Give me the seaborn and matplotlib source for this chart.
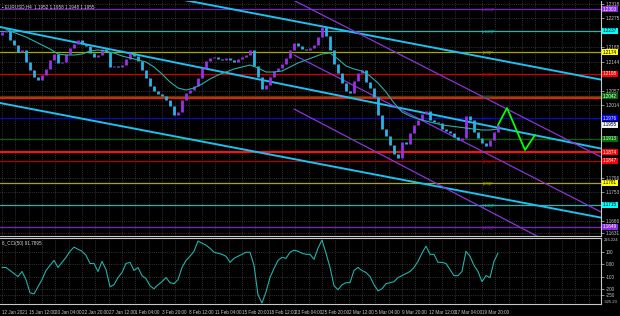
import numpy as np
import pandas as pd
import matplotlib
matplotlib.use("Agg")
import matplotlib.pyplot as plt
import seaborn as sns
from matplotlib.transforms import blended_transform_factory

# ---------------- data ----------------
first_open = 1.2225
closes = [1.2234, 1.2240, 1.2210, 1.2195, 1.2174, 1.2180, 1.2144, 1.2120, 1.2099, 1.2090,
          1.2105, 1.2123, 1.2150, 1.2168, 1.2141, 1.2144, 1.2168, 1.2186, 1.2198, 1.2210,
          1.2198, 1.2192, 1.2171, 1.2159, 1.2165, 1.2183, 1.2174, 1.2129, 1.2132, 1.2129,
          1.2135, 1.2153, 1.2171, 1.2162, 1.2147, 1.2120, 1.2096, 1.2072, 1.2057, 1.2048,
          1.2042, 1.2030, 1.2012, 1.1985, 1.1994, 1.2030, 1.2051, 1.2060, 1.2072, 1.2096,
          1.2126, 1.2147, 1.2156, 1.2159, 1.2153, 1.2150, 1.2156, 1.2150, 1.2144, 1.2153,
          1.2159, 1.2165, 1.2180, 1.2132, 1.2099, 1.2063, 1.2075, 1.2099, 1.2117, 1.2126,
          1.2138, 1.2156, 1.2180, 1.2201, 1.2192, 1.2183, 1.2180, 1.2186, 1.2195, 1.2219,
          1.2249, 1.2222, 1.2180, 1.2138, 1.2111, 1.2081, 1.2057, 1.2051, 1.2087, 1.2111,
          1.2120, 1.2084, 1.2066, 1.2039, 1.1985, 1.1943, 1.1922, 1.1895, 1.1868, 1.1856,
          1.1904, 1.1898, 1.1931, 1.1955, 1.1970, 1.1988, 1.1997, 1.1970, 1.1964, 1.1961,
          1.1943, 1.1937, 1.1931, 1.1919, 1.1910, 1.1916, 1.1982, 1.1970, 1.1934, 1.1916,
          1.1901, 1.1892, 1.1910, 1.1934, 1.1955]

ma_values = [1.2249, 1.2237, 1.2228, 1.2219, 1.2207, 1.2195, 1.2183, 1.2168, 1.2165, 1.2165,
             1.2168, 1.2177, 1.2180, 1.2177, 1.2171, 1.2162, 1.2156, 1.2150, 1.2144, 1.2129,
             1.2108, 1.2084, 1.2066, 1.2060, 1.2066, 1.2078, 1.2093, 1.2105, 1.2114, 1.2123,
             1.2129, 1.2135, 1.2126, 1.2114, 1.2114, 1.2117, 1.2129, 1.2141, 1.2150, 1.2159,
             1.2168, 1.2171, 1.2153, 1.2132, 1.2123, 1.2117, 1.2102, 1.2081, 1.2054, 1.2021,
             1.1994, 1.1982, 1.1973, 1.1967, 1.1961, 1.1955, 1.1952, 1.1949, 1.1946, 1.1943,
             1.1940, 1.1940, 1.1943]

cci_values = [-25, -25, -50, -75, -100, -58, -125, -233, -242, -183,
              -125, -50, -8, 33, -25, 17, 58, 108, 142, 125,
              108, 75, 8, 8, -58, 25, -42, -183, -167, -108,
              -67, 8, 17, -50, -25, -92, -117, -175, -200, -167,
              -142, -108, -150, -158, -125, -25, 33, 67, 108, 192,
              175, 158, 133, 100, 92, 83, 67, 17, 50, 67,
              83, 100, 100, -8, -250, -317, -225, -108, -33, 33,
              58, 50, 100, 117, 108, 92, 83, 83, 42, 133,
              200, 92, -25, -175, -208, -167, -150, -150, -50, -25,
              -50, -67, -100, -167, -217, -200, -158, -150, -142, -108,
              -92, -75, -58, -25, 25, 92, 150, 83, 83, 17,
              17, 8, -42, -92, -92, -58, 108, 67, -8, -58,
              -142, -92, -108, 25, 92]

date_labels = ["12 Jan 2021", "15 Jan 12:00", "20 Jan 04:00", "22 Jan 20:00", "27 Jan 12:00",
               "1 Feb 04:00", "3 Feb 20:00", "8 Feb 12:00", "11 Feb 04:00", "15 Feb 20:00",
               "18 Feb 12:00", "23 Feb 04:00", "25 Feb 20:00", "2 Mar 12:00", "5 Mar 04:00",
               "9 Mar 20:00", "12 Mar 12:00", "17 Mar 04:00", "19 Mar 20:00"]

price_ticks = [1.2318, 1.2275, 1.2188, 1.2144, 1.2057, 1.2014,
               1.1796, 1.1753, 1.1666, 1.1631]

murray_names = ["[+2/8]", "[+1/8]", "[8/8]", "[7/8]", "[6/8]", "[4/8]",
                "[2/8]", "[1/8]", "[0/8]", "[-1/8]", "[-2/8]"]
murray_prices = [1.2303, 1.2237, 1.2174, 1.2108, 1.2042, 1.1976,
                 1.1913, 1.1847, 1.1781, 1.1715, 1.1649]
murray_colors = ["#7a22c0", "#1fb5b5", "#a8a800", "#d00000", "#006400", "#0a0ab8",
                 "#006400", "#b00000", "#a8a800", "#1fb5b5", "#7a22c0"]
murray_box = ["#8a2be2", "#00ffff", "#ffff00", "#ff0000", "#007000", "#0000ff",
              "#007000", "#ff0000", "#ffff00", "#00ffff", "#8a2be2"]
murray_box_text = ["white", "black", "black", "white", "white", "white",
                   "white", "white", "black", "black", "white"]

support_prices = [1.2036, 1.1874]
support_label = 1.1874

# trend lines: (bar_start, price_start, bar_end, price_end)
cyan_lines = [(-1.2, 1.2249, 360.6, 1.1883),
              (109.2, 1.2330, 360.6, 1.2090),
              (-1.2, 1.2021, 360.6, 1.1676)]
purple_lines = [(174.6, 1.2330, 360.6, 1.1856),
                (175.2, 1.2165, 360.6, 1.1691),
                (175.2, 1.2003, 360.6, 1.1518)]

proj_bars = [297.6, 303.0, 313.8, 319.8]
proj_prices = [1.1955, 1.2006, 1.1880, 1.1925]

last_price = 1.1955
cci_title = "CCI(50) 91.7895"
header = "EURUSD,H4  1.1952 1.1958 1.1948 1.1955"
cci_ticks = [100, 0, -100, -200, -250]
cci_tick_labels = ["100", "0.00", "-100", "-200", "-250"]
cci_max_label, cci_min_label = "216.224", "-325.23"

# ---------------- style / layout ----------------
BARS_PER_SAMPLE = 2.4
W, H = 620, 316
FS = 3.3
sns.set_theme(style="dark", rc={
    "figure.facecolor": "black", "axes.facecolor": "black",
    "axes.edgecolor": "#c8c8c8", "text.color": "#c8c8c8",
    "xtick.color": "#c8c8c8", "ytick.color": "#c8c8c8",
})
plt.rcParams["font.family"] = ["Liberation Sans", "DejaVu Sans"]

fig = plt.figure(figsize=(W / 100, H / 100), dpi=100)
ax1 = fig.add_axes([0, 1 - 236 / H, 601 / W, 235 / H])
ax2 = fig.add_axes([0, 1 - 304 / H, 601 / W, 66 / H], sharex=ax1)

xmin, xmax = -1.2, 359.4
n = len(closes)
xs = np.arange(n) * BARS_PER_SAMPLE
opens = [first_open] + closes[:-1]
df = pd.DataFrame({"bar": xs, "open": opens, "close": closes})
up = df["close"] >= df["open"]

grid_kw = dict(color="#6a6a6a", lw=0.45, ls=(0, (1, 2)))

for ax in (ax1, ax2):
    ax.set_xlim(xmin, xmax)
    ax.set_xticks(np.arange(len(date_labels)) * 16)
    ax.set_xticks(np.arange(0, 360, 8), minor=True)
    ax.grid(True, which="both", axis="x", **grid_kw)
    ax.grid(True, which="major", axis="y", **grid_kw)
    ax.spines["left"].set_visible(False)
    for s in ("bottom", "right", "top"):
        ax.spines[s].set_color("#c8c8c8")
        ax.spines[s].set_linewidth(0.8)
    ax.yaxis.tick_right()
    ax.tick_params(axis="y", which="both", labelsize=FS, length=2, width=0.5,
                   pad=1.5, colors="#c8c8c8")
ax1.spines["top"].set_visible(False)

# ---- main price panel ----
ax1.set_ylim(1.1622, 1.2327)
ax1.set_yticks(price_ticks)
ax1.set_yticklabels([f"{p:.4f}" for p in price_ticks])
ax1.tick_params(axis="x", which="both", length=0, labelbottom=False)

for p, c in zip(murray_prices, murray_colors):
    ax1.axhline(p, color=c, lw=0.9, zorder=2)
for p in support_prices:
    ax1.axhline(p, color="#ff1010", lw=1.5, zorder=2)

for (b0, p0, b1, p1) in cyan_lines:
    sns.lineplot(x=[b0, b1], y=[p0, p1], ax=ax1, color="#1ec0f0", lw=1.4, zorder=3)
for (b0, p0, b1, p1) in purple_lines:
    sns.lineplot(x=[b0, b1], y=[p0, p1], ax=ax1, color="#8a34d8", lw=0.9, zorder=3)

# candles
ax1.vlines(df.loc[up, "bar"], df.loc[up, "open"], df.loc[up, "close"],
           color="#9b30e8", lw=2.0, zorder=4)
ax1.vlines(df.loc[~up, "bar"], df.loc[~up, "open"], df.loc[~up, "close"],
           color="#28b4e8", lw=2.0, zorder=4)

ma_x = np.arange(len(ma_values)) * BARS_PER_SAMPLE * 2
sns.lineplot(x=ma_x, y=ma_values, ax=ax1, color="#20b2aa", lw=0.8, zorder=5)
sns.lineplot(x=proj_bars, y=proj_prices, ax=ax1, color="#00ff00", lw=1.3, zorder=6)

for name, p, c in zip(murray_names, murray_prices, murray_colors):
    ax1.text(292, p - 0.0004, name + "P", color=c, fontsize=3.1, ha="center",
             va="center", zorder=6)

trans = blended_transform_factory(ax1.transAxes, ax1.transData)
box_kw = dict(transform=trans, fontsize=FS, ha="left", va="center", clip_on=False)
for p, bc, tc in zip(murray_prices, murray_box, murray_box_text):
    ax1.text(1.003, p, f"{p:.4f}", color=tc, zorder=10,
             bbox=dict(boxstyle="square,pad=0.2", fc=bc, ec="none"), **box_kw)
ax1.text(1.003, support_label, f"{support_label:.4f}", color="white", zorder=10,
         bbox=dict(boxstyle="square,pad=0.2", fc="#ff0000", ec="none"), **box_kw)
ax1.text(1.003, last_price, f"{last_price:.4f}", color="black", zorder=11,
         bbox=dict(boxstyle="square,pad=0.2", fc="#f0f0f0", ec="none"), **box_kw)

ax1.text(0.004, 0.985, "\u25aa " + header, transform=ax1.transAxes, fontsize=FS,
         color="#d8d8d8", ha="left", va="top", zorder=12)

# ---- CCI panel ----
cci_x = np.arange(len(cci_values)) * BARS_PER_SAMPLE
ax2.set_ylim(-325, 217)
ax2.set_yticks(cci_ticks)
ax2.set_yticklabels(cci_tick_labels)
sns.lineplot(x=cci_x, y=cci_values, ax=ax2, color="#20b2aa", lw=0.8, zorder=5)
ax2.text(0.004, 0.95, "6_" + cci_title, transform=ax2.transAxes, fontsize=FS,
         color="#d8d8d8", ha="left", va="top")
ax2.text(1.004, 0.97, cci_max_label, transform=ax2.transAxes, fontsize=3.0,
         color="#c8c8c8", ha="left", va="center", clip_on=False)
ax2.text(1.004, 0.03, cci_min_label, transform=ax2.transAxes, fontsize=3.0,
         color="#c8c8c8", ha="left", va="center", clip_on=False)

ax2.set_xticklabels(date_labels)
ax2.tick_params(axis="x", which="major", labelsize=FS, length=2, width=0.5,
                pad=2, colors="#c8c8c8")
ax2.tick_params(axis="x", which="minor", length=0)
for lab in ax2.get_xticklabels():
    lab.set_horizontalalignment("left")

for ax in (ax1, ax2):
    ax.set_xlabel("")
    ax.set_ylabel("")
    if ax.get_legend():
        ax.get_legend().remove()

fig.savefig("out.png", dpi=100, facecolor="black")
